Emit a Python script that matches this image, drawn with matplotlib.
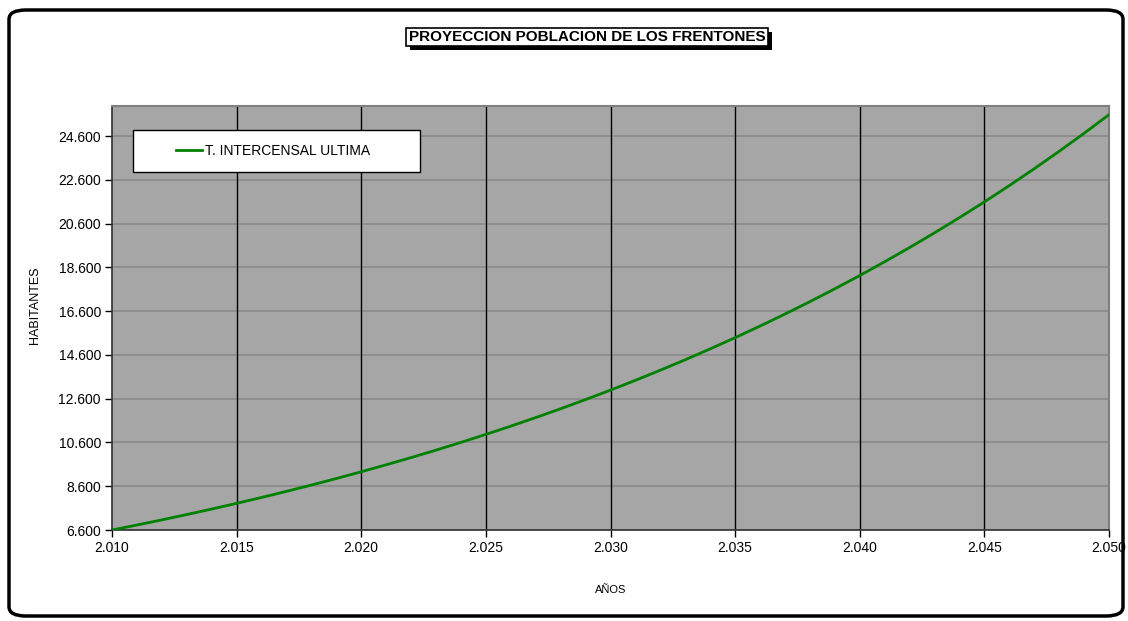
import matplotlib
matplotlib.use("Agg")
import matplotlib.pyplot as plt
from matplotlib.patches import FancyBboxPatch, Rectangle
from matplotlib.ticker import FuncFormatter

plt.rcParams['font.family'] = ['Liberation Sans', 'DejaVu Sans']

# proyeccion anual (tasa intercensal ultima)
anios = list(range(2010, 2051))
habitantes = [6600, 6827, 7063, 7306, 7558, 7818, 8087, 8366, 8654, 8952,
              9261, 9580, 9910, 10251, 10604, 10969, 11347, 11738, 12142, 12560,
              12993, 13441, 13904, 14382, 14878, 15390, 15920, 16469, 17036, 17623,
              18230, 18860, 19509, 20181, 20876, 21595, 22340, 23110, 23906, 24729,
              25581]
serie = "T. INTERCENSAL ULTIMA"
titulo = "PROYECCION POBLACION DE LOS FRENTONES"
yticks = list(range(6600, 24601, 2000))
xticks = list(range(2010, 2051, 5))


def miles(v, pos=None):
    return f"{int(round(v)):,}".replace(",", ".")


W, H = 1128, 621
fig = plt.figure(figsize=(W / 100, H / 100), dpi=100)

# marco exterior redondeado
marco = FancyBboxPatch((9 / W, 5 / H), 1114 / W, 606 / H,
                       boxstyle="round,pad=0,rounding_size=0.015",
                       transform=fig.transFigure, facecolor="white",
                       edgecolor="black", linewidth=2.5, zorder=-5)
fig.patches.append(marco)

ax = fig.add_axes([112 / W, 91 / H, 997 / W, 424.5 / H])
ax.set_facecolor("#a6a6a6")
ax.plot(anios, habitantes, color="#008000", linewidth=2, label=serie, zorder=3)

ax.set_xlim(2010, 2050)
ax.set_ylim(6600, 26000)
ax.set_xticks(xticks)
ax.set_yticks(yticks)
ax.xaxis.set_major_formatter(FuncFormatter(miles))
ax.yaxis.set_major_formatter(FuncFormatter(miles))
ax.tick_params(axis="both", direction="out", length=5, width=1, color="black",
               labelsize=10, pad=3)

for y in yticks:
    ax.axhline(y, color="#8a8a8a", linewidth=1.2, zorder=1)
for x in xticks[1:-1]:
    ax.axvline(x, color="black", linewidth=1, zorder=2)

for lado in ("left", "bottom"):
    ax.spines[lado].set_color("#303030")
    ax.spines[lado].set_linewidth(1.2)
for lado in ("top", "right"):
    ax.spines[lado].set_color("#808080")
    ax.spines[lado].set_linewidth(1.5)

fig.text(611 / W, 1 - 590 / H, "AÑOS", fontsize=8, ha="center", va="center")
fig.text(35 / W, 1 - 305 / H, "HABITANTES", fontsize=9, rotation=90,
         ha="center", va="center")

# leyenda: recuadro blanco y entrada de la serie
ax.add_patch(Rectangle((21 / 997, (530 - 172) / 424.5), 287 / 997, 42 / 424.5,
                       transform=ax.transAxes, facecolor="white",
                       edgecolor="black", linewidth=1, zorder=4))
leg = ax.legend(loc="center left", bbox_to_anchor=(64 / 997, (530 - 151) / 424.5),
                frameon=False, fontsize=10, handlelength=1.9,
                handletextpad=0.2, borderpad=0, borderaxespad=0)
leg.set_zorder(5)

# titulo con recuadro y sombra
tit = fig.text(587 / W, 1 - 37 / H, titulo, color="black", fontsize=11,
               fontweight="bold", ha="center", va="center", zorder=5,
               bbox=dict(boxstyle="square,pad=0.15", facecolor="white",
                         edgecolor="black", linewidth=1.2))
fig.canvas.draw()
caja = tit.get_bbox_patch().get_window_extent()
fig.patches.append(Rectangle((caja.x0 + 4, caja.y0 - 4), caja.width, caja.height,
                             transform=None, facecolor="black", edgecolor="none",
                             zorder=4))

fig.savefig("out.png", dpi=100)
